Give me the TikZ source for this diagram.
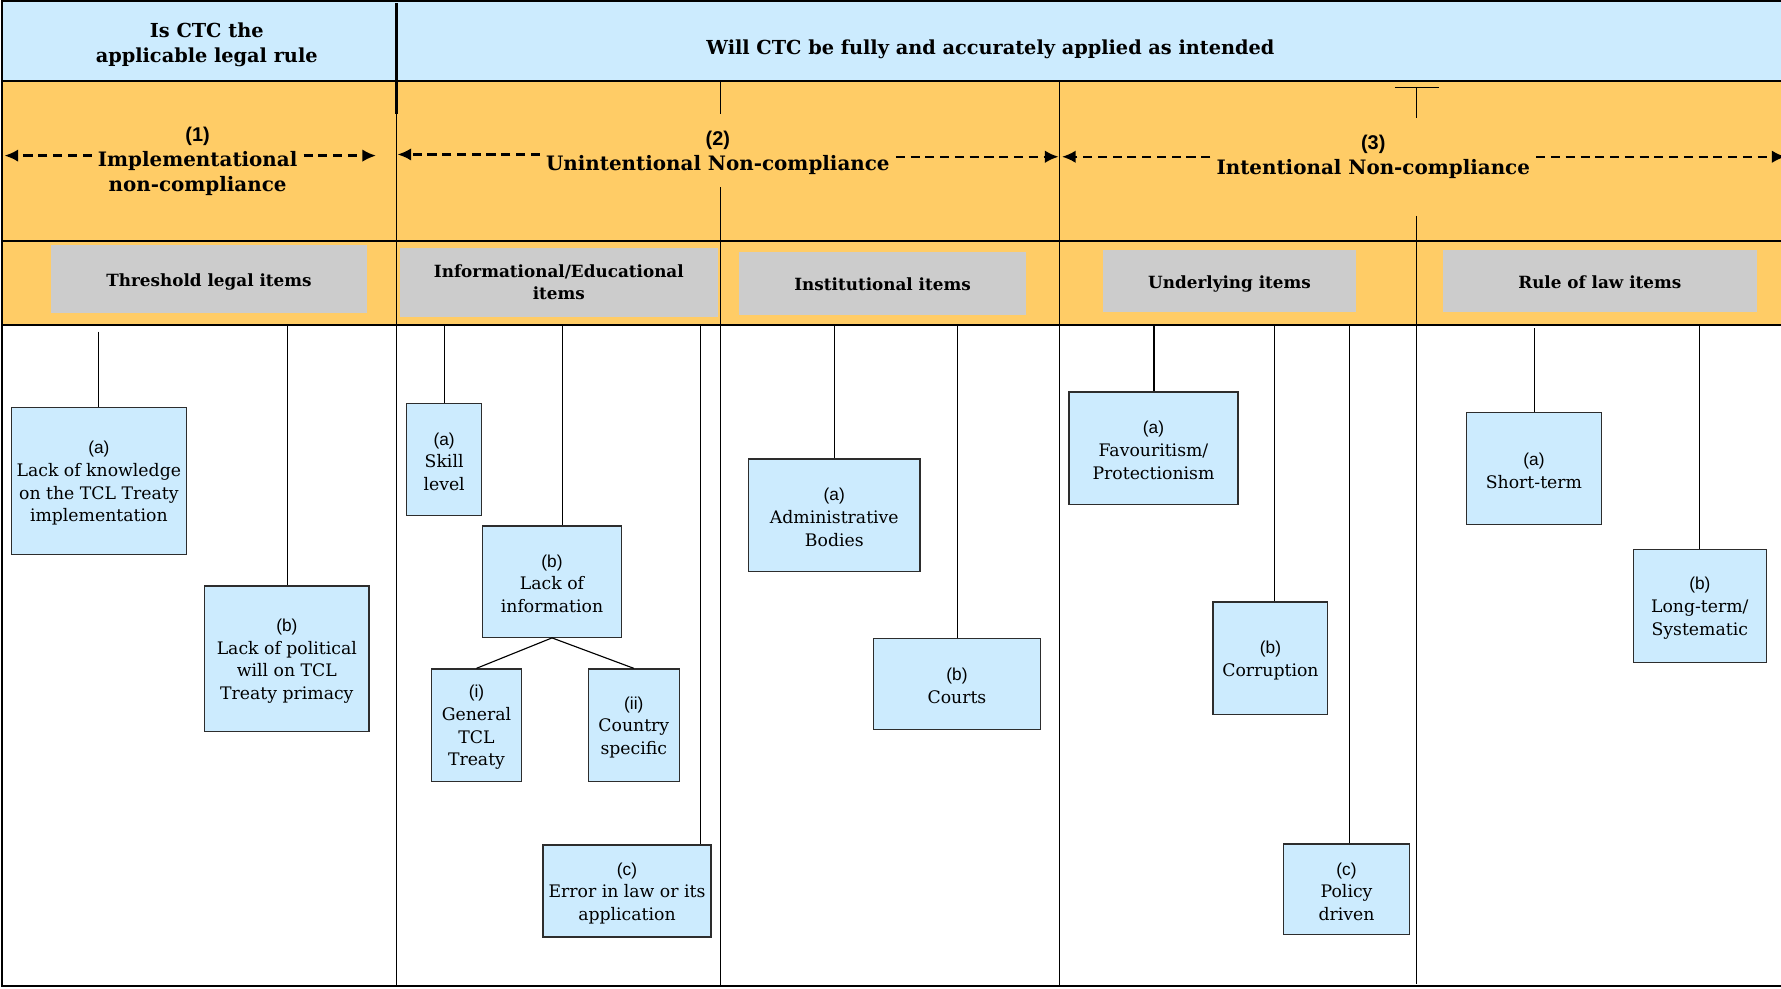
\documentclass[tikz,border=0pt]{standalone}
\usepackage{fontspec}
\setmainfont{DejaVu Serif}
\newfontfamily\lblfont{Liberation Sans}
\usetikzlibrary{arrows.meta, calc, positioning}

\definecolor{headblue}{RGB}{204,235,254}
\definecolor{bandorange}{RGB}{255,204,102}
\definecolor{itemgray}{RGB}{204,204,204}
\definecolor{boxline}{RGB}{45,45,45}

\newcommand{\lab}[1]{{\lblfont\rule{0pt}{15pt}(#1)}}
\newcommand{\catnum}[1]{{\lblfont\bfseries(#1)}}

\begin{document}
\begin{tikzpicture}[x=1pt, y=-1pt, line width=1pt,
  dims/.style 2 args={minimum width=#1, minimum height=#2},
  leaf/.style={draw=boxline, fill=headblue, line width=1.2pt, inner sep=0pt, align=center,
    font=\fontsize{15.2}{20}\selectfont},
  group/.style={fill=itemgray, inner sep=0pt, align=center,
    font=\fontsize{14.8}{20}\selectfont\bfseries},
  oneline/.style={text height=13pt, text depth=0pt},
  question/.style={align=center, font=\fontsize{17}{22}\selectfont\bfseries},
  category/.style={align=center, inner sep=5pt, font=\fontsize{17.5}{22}\selectfont\bfseries},
  dasharrow/.style={dashed, dash pattern=on 8pt off 5pt, line width=2pt, -{Latex[length=12pt, width=11pt]}}
]
\useasboundingbox (0,0) rectangle (1568,870);

% Bands
\fill[headblue] (2,1) rectangle (1568,71);
\fill[bandorange] (2,71) rectangle (1568,286);

% Frame and row lines
\draw[line width=1.8pt] (1,1) -- (1568,1);
\draw[line width=1.6pt] (2,1) -- (2,868) -- (1568,868);
\draw[line width=1.6pt] (2,71) -- (1568,71);
\draw[line width=1.6pt] (2,212) -- (1568,212);
\draw[line width=1.6pt] (2,286) -- (1568,286);

% Column dividers
\draw[line width=2pt] (349,3) -- (349,100);
\draw (349,100) -- (349,868);
\draw (634,71) -- (634,100);
\draw (634,165) -- (634,868);
\draw (933,71) -- (933,868);
\draw (1228,77) -- (1267,77);
\draw (1247,77) -- (1247,104);
\draw (1247,190) -- (1247,866);

% Questions
\node[question] (qrule) at (182,39.5) {Is CTC the\\applicable legal rule};
\node[question] (qapply) at (872,43) {Will CTC be fully and accurately applied as intended};

% Categories of non-compliance
\node[category] (impl) at (174,142) {\catnum{1}\\Implementational\\non-compliance};
\node[category] (unint) at (632,135) {\catnum{2}\\Unintentional Non-compliance};
\node[category] (intent) at (1209,138.5) {\catnum{3}\\Intentional Non-compliance};

\coordinate (impl-l) at (4,137);
\coordinate (impl-r) at (331,137);
\coordinate (unint-l) at (350,136);
\coordinate (unint-r) at (932,138);
\coordinate (intent-l) at (935,138);
\coordinate (intent-r) at (1572,138);

\draw[dasharrow] (impl.west |- impl-l) -- (impl-l);
\draw[dasharrow] (impl.east |- impl-r) -- (impl-r);
\draw[dasharrow] (unint.west |- unint-l) -- (unint-l);
\draw[dasharrow] (unint.east |- unint-r) -- (unint-r);
\draw[dasharrow] (intent.west |- intent-l) -- (intent-l);
\draw[dasharrow] (intent.east |- intent-r) -- (intent-r);

% Item groups
\node[group, oneline, dims={278}{60}] (thr) at (184,246) {Threshold legal items};
\node[group, dims={280}{61}] (info) at (492,248.5) {Informational/Educational\\items};
\node[group, oneline, dims={252}{55}] (inst) at (777,249.5) {Institutional items};
\node[group, oneline, dims={223}{55}] (undl) at (1082.5,247.5) {Underlying items};
\node[group, oneline, dims={277}{55}] (rlaw) at (1408.5,247.5) {Rule of law items};

% Items
\node[leaf, dims={154}{129}] (thr-a) at (87,423.5) {\lab{a}\\Lack of knowledge\\on the TCL Treaty\\implementation};
\node[leaf, dims={145}{128}] (thr-b) at (252.5,580) {\lab{b}\\Lack of political\\will on TCL\\Treaty primacy};

\node[leaf, dims={66}{99}] (info-a) at (391,404.5) {\lab{a}\\Skill\\level};
\node[leaf, dims={122}{98}] (info-b) at (486,512) {\lab{b}\\Lack of\\information};
\node[leaf, dims={79}{99}] (info-bi) at (419.5,638.5) {\lab{i}\\General\\TCL\\Treaty};
\node[leaf, dims={80}{99}] (info-bii) at (558,638.5) {\lab{ii}\\Country\\specific};
\node[leaf, dims={148}{81}] (info-c) at (552,784.5) {\lab{c}\\Error in law or its\\application};

\node[leaf, dims={151}{99}] (inst-a) at (734.5,453.5) {\lab{a}\\Administrative\\Bodies};
\node[leaf, dims={147}{80}] (inst-b) at (842.5,602) {\lab{b}\\Courts};

\node[leaf, dims={149}{99}] (undl-a) at (1015.5,394.5) {\lab{a}\\Favouritism/\\Protectionism};
\node[leaf, dims={101}{99}] (undl-b) at (1118.5,579.5) {\lab{b}\\Corruption};
\node[leaf, dims={111}{80}] (undl-c) at (1185.5,783) {\lab{c}\\Policy\\driven};

\node[leaf, dims={119}{99}] (rlaw-a) at (1350.5,412.5) {\lab{a}\\Short-term};
\node[leaf, dims={117}{99}] (rlaw-b) at (1496.5,533.5) {\lab{b}\\Long-term/\\Systematic};

% Drop lines from the band to the items
\coordinate (d1) at (87,292);
\coordinate (d2) at (253,286);
\coordinate (d3) at (391,286);
\coordinate (d4) at (495,286);
\coordinate (d5) at (617,286);
\coordinate (d6) at (735,286);
\coordinate (d7) at (843,286);
\coordinate (d8) at (1016,286);
\coordinate (d9) at (1122,286);
\coordinate (d10) at (1188,286);
\coordinate (d11) at (1351,289);
\coordinate (d12) at (1496,286);
\foreach \top/\leafname in {d1/thr-a, d2/thr-b, d3/info-a, d4/info-b, d5/info-c, d6/inst-a,
    d7/inst-b, d8/undl-a, d9/undl-b, d10/undl-c, d11/rlaw-a, d12/rlaw-b} {
  \draw (\top) -- (\top |- \leafname.north);
}

% Sub-items of (b) Lack of information
\draw (info-b.south) -- (info-bi.north);
\draw (info-b.south) -- (info-bii.north);
\end{tikzpicture}
\end{document}
